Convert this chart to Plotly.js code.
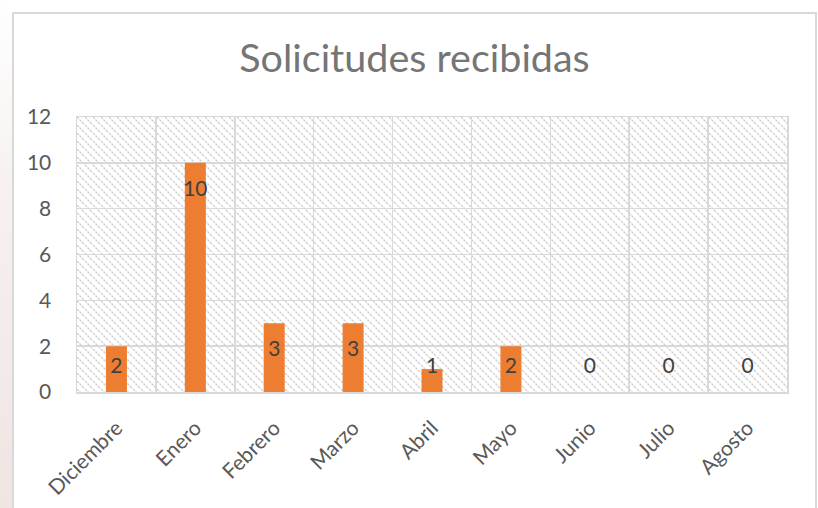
<!DOCTYPE html>
<html><head><meta charset="utf-8">
<script src="https://cdn.plot.ly/plotly-3.0.1.min.js"></script>
<style>
html,body{margin:0;padding:0;width:818px;height:508px;overflow:hidden;background:#fff;}
#strip{position:absolute;left:0;top:0;width:12px;height:508px;background:linear-gradient(to bottom,#ffffff 0%,#f6f0ef 40%,#efe5e3 100%);}
#frame{position:absolute;left:12px;top:12px;width:801px;height:500px;border:2px solid #d9d9d9;border-bottom:none;background:#fff;}
</style></head>
<body>
<div id="strip"></div>
<div id="frame"><div id="chart" style="width:801px;height:500px;"></div></div>
<script>
const categories = ["Diciembre","Enero","Febrero","Marzo","Abril","Mayo","Junio","Julio","Agosto"];
const solicitudes = [2, 10, 3, 3, 1, 2, 0, 0, 0];
const yTicks = [0, 2, 4, 6, 8, 10, 12];

const labelY = solicitudes.map(v => Math.max(v - 1.2, 1.05));

const W = 710, H = 275;
const svg = `<svg xmlns="http://www.w3.org/2000/svg" width="${W}" height="${H}" viewBox="0 0 ${W} ${H}">
<defs><pattern id="p" patternUnits="userSpaceOnUse" width="8" height="8">
<path d="M0,0 L8,8 M-2,6 L2,10 M6,-2 L10,2" stroke="#cfcfcf" stroke-width="1.5" stroke-dasharray="2.5,1"/>
</pattern></defs>
<rect width="${W}" height="${H}" fill="#ffffff"/>
<rect width="${W}" height="${H}" fill="url(#p)"/></svg>`;
const bgSrc = "data:image/svg+xml;charset=utf-8," + encodeURIComponent(svg);

const font = "Lato, 'Open Sans', sans-serif";

const traces = [
  {
    type: "bar",
    x: categories,
    y: solicitudes,
    marker: {color: "#ED7D31"},
    hoverinfo: "x+y"
  },
  {
    type: "scatter",
    mode: "text",
    x: categories,
    y: labelY,
    text: solicitudes.map(String),
    textposition: "middle center",
    textfont: {family: font, size: 21, color: "#404040"},
    cliponaxis: false,
    hoverinfo: "skip"
  }
];

const layout = {
  width: 801, height: 500,
  margin: {l: 63, r: 28, t: 103, b: 122},
  paper_bgcolor: "rgba(0,0,0,0)",
  plot_bgcolor: "#ffffff",
  showlegend: false,
  bargap: 0.734,
  title: {
    text: "Solicitudes recibidas",
    font: {family: font, size: 39.5, color: "#757575"},
    x: 0.5, xref: "container", xanchor: "center",
    y: 0.912, yref: "container", yanchor: "middle"
  },
  xaxis: {
    type: "category",
    tickson: "boundaries",
    showgrid: true,
    gridcolor: "#d9d9d9", gridwidth: 1.5,
    showline: true, linecolor: "#d9d9d9", linewidth: 1.5, mirror: true,
    ticks: "", tickangle: -45,
    tickfont: {family: font, size: 21, color: "#595959"},
    ticklabelstandoff: 14,
    zeroline: false
  },
  yaxis: {
    range: [0, 12],
    tickvals: yTicks,
    showgrid: true,
    gridcolor: "#d9d9d9", gridwidth: 1.5,
    showline: true, linecolor: "#d9d9d9", linewidth: 1.5, mirror: true,
    ticks: "",
    tickfont: {family: font, size: 21, color: "#595959"},
    ticklabelstandoff: 20,
    zeroline: false
  },
  images: [{
    source: bgSrc, xref: "paper", yref: "paper",
    x: 0, y: 1, sizex: 1, sizey: 1, xanchor: "left", yanchor: "top",
    sizing: "stretch", layer: "below"
  }]
};

Plotly.newPlot("chart", traces, layout, {displayModeBar: false, staticPlot: true});
</script>
</body></html>
